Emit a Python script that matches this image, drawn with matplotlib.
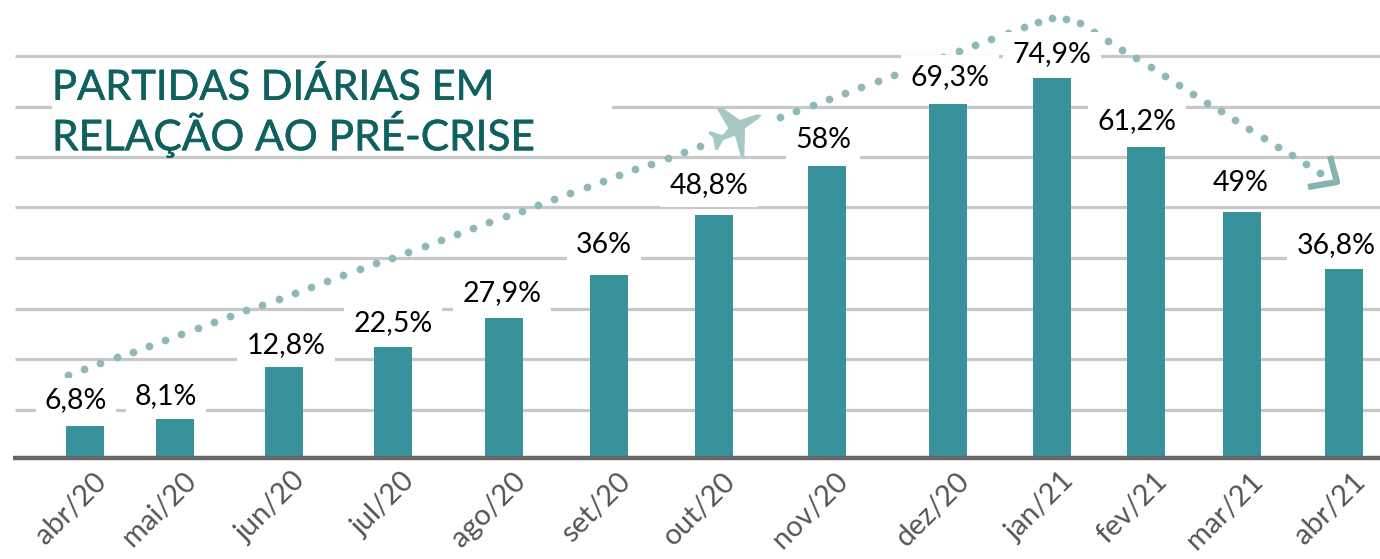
import numpy as np
import matplotlib
matplotlib.use('Agg')
import matplotlib.pyplot as plt
import matplotlib.patheffects as pe
from matplotlib.patches import Polygon

months = ['abr/20', 'mai/20', 'jun/20', 'jul/20', 'ago/20', 'set/20', 'out/20',
          'nov/20', 'dez/20', 'jan/21', 'fev/21', 'mar/21', 'abr/21']
# bar heights as drawn in the picture (the jun/20 bar is taller than its label says)
bar_heights = [6.3, 7.7, 17.9, 21.9, 27.6, 36.1, 47.9, 57.6, 69.8, 74.9, 61.3, 48.5, 37.3]
value_labels = ['6,8%', '8,1%', '12,8%', '22,5%', '27,9%', '36%', '48,8%',
                '58%', '69,3%', '74,9%', '61,2%', '49%', '36,8%']
grid_levels = [9.5, 19.5, 29.4, 39.4, 49.5, 59.4, 69.3, 79.3]

# the months are not evenly spaced in the original, so x is in image pixels
bar_x = [85, 175, 284, 393, 504, 609, 714, 827, 948, 1052, 1146, 1242, 1344]
label_x = [76, 166, 286, 393, 502, 604, 709, 823, 950, 1052, 1137, 1241, 1336]
label_y = [400, 396, 345, 323, 293, 245, 185, 140, 77, 54, 121, 183, 245]

# dotted route and decorations, image pixels
curve_x = [1038, 1052, 1066, 1080]
curve_y = [22, 18, 19, 23]
arrow_head = [(1330, 156), (1337, 182), (1308, 187)]
plane_zoom = [(200, 60), (190, 72), (150, 100), (150, 110), (148, 185), (137, 185),
              (120, 122), (85, 135), (68, 165), (60, 163), (55, 130), (40, 115),
              (45, 108), (82, 120), (100, 100), (65, 40), (82, 38), (135, 75), (185, 58)]

TEAL = '#38929c'
DOTS = '#8fb8b8'
TITLE = '#0f615f'
W, H = 1380, 559
BASE = 458
PX_PER_UNIT = 5.07

plt.rcParams['font.family'] = ['Lato', 'DejaVu Sans']
fig = plt.figure(figsize=(13.8, 5.59), dpi=100)

# bars and grid
ax = fig.add_axes([0, 0, 1, 1])
ax.set_xlim(0, W)
ax.set_ylim(-(H - BASE) / PX_PER_UNIT, BASE / PX_PER_UNIT)
ax.bar(bar_x, bar_heights, width=38, color=TEAL, zorder=3)
ax.hlines(grid_levels, 15, W, color='#c8c8c8', lw=2.3, zorder=1)
ax.hlines(0, 13, W, color='#666666', lw=3.2, zorder=4)
for s in ax.spines.values():
    s.set_visible(False)
ax.set_xticks([])
ax.set_yticks([])

# overlay in image pixels for the route, plane, title and all the labels
deco = fig.add_axes([0, 0, 1, 1], facecolor='none')
deco.set_xlim(0, W)
deco.set_ylim(H, 0)
deco.axis('off')

dots_x = np.concatenate([np.linspace(68, 700, 40), np.linspace(780, 1024, 16), curve_x,
                         np.linspace(1094, 1320, 17)])
dots_y = np.concatenate([np.linspace(375, 146, 40), np.linspace(117, 27, 16), curve_y,
                         np.linspace(32, 173, 17)])
deco.scatter(dots_x, dots_y, s=31, color=DOTS, linewidths=0, zorder=2)
deco.plot([p[0] for p in arrow_head], [p[1] for p in arrow_head], color='#84b3b4', lw=4.5,
          solid_joinstyle='round', solid_capstyle='butt', zorder=3)
plane = [(695 + x / 3, 95 + y / 3) for x, y in plane_zoom]
deco.add_patch(Polygon(plane, closed=True, facecolor='#a8c8c6', edgecolor='none', zorder=3))

for x, y, txt in zip(label_x, label_y, value_labels):
    deco.text(x, y, txt, ha='center', va='center', fontsize=20.5, color='black', zorder=5,
              bbox=dict(facecolor='white', edgecolor='none', pad=6.5))

# month labels, rotated and ending just right of each bar's centre
for x, m in zip(bar_x, months):
    deco.text(x + 8, 468, m, rotation=45, ha='right', va='top', rotation_mode='anchor',
              fontsize=21, color='#555555', zorder=5)

# white panel behind the title interrupts one grid line
deco.fill_between([52, 612], 75, 140, color='white', lw=0, zorder=1.5)
stroke = [pe.withStroke(linewidth=0.4, foreground=TITLE)]
deco.text(52, 87, 'PARTIDAS DIÁRIAS EM', ha='left', va='center', fontsize=30, color=TITLE,
          path_effects=stroke, zorder=6)
deco.text(52, 134, 'RELAÇÃO AO PRÉ-CRISE', ha='left', va='center', fontsize=30.5, color=TITLE,
          path_effects=stroke, zorder=6)

fig.savefig('out.png', dpi=100)
